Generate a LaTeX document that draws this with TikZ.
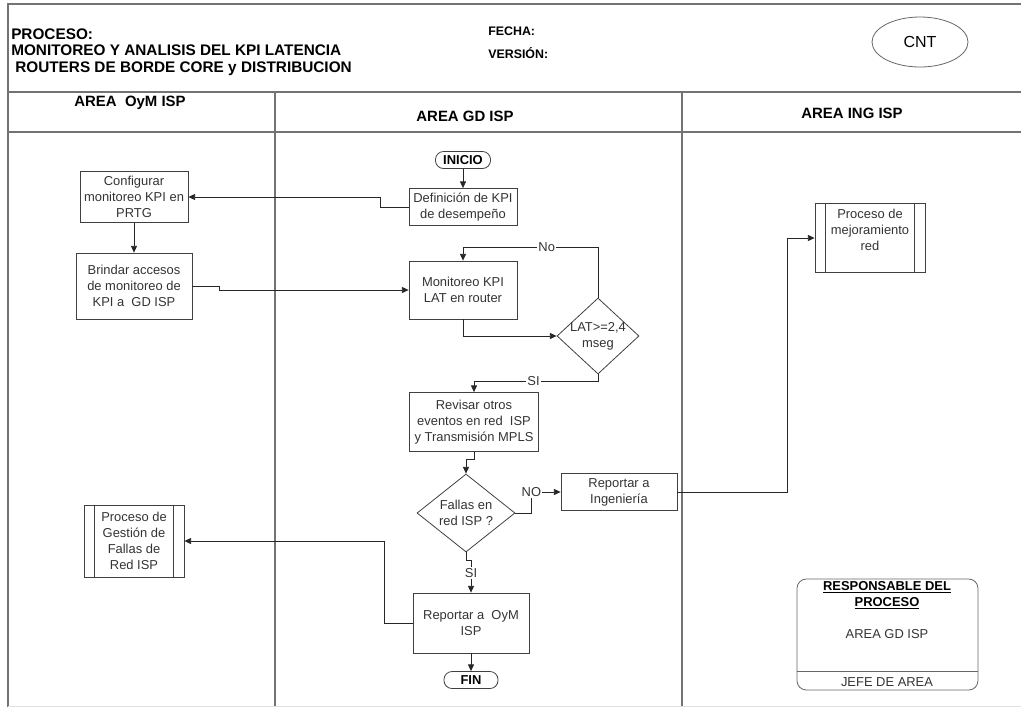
\documentclass[tikz,border=0pt]{standalone}
\usepackage{fontspec}
\setmainfont{Liberation Sans}
\usetikzlibrary{shapes.geometric,arrows.meta,calc}

\newcommand{\boxfont}{\fontsize{9.7}{12}\selectfont}

\tikzset{
    lane/.style={draw=black!55, line width=0.8pt},
    box/.style={draw=black!75, line width=0.6pt, align=center, text=black!80, font=\boxfont, inner sep=1pt},
    term/.style={box, rounded corners=6pt, font=\boxfont\bfseries, text=black},
    decision/.style={box, diamond, inner sep=0pt},
    subproc/.style={box},
    flow/.style={draw=black!85, line width=0.6pt, -{Triangle[length=5pt,width=4.5pt]}},
    lbl/.style={fill=white, inner sep=1pt, text=black!80, font=\boxfont},
    lanehead/.style={font=\fontsize{11.2}{13}\selectfont\bfseries},
}

\begin{document}
\begin{tikzpicture}[x=0.75pt, y=-0.75pt]
    \useasboundingbox (0,0) rectangle (1021,708);

    %frame and lanes
    \draw[lane] (8,707) -- (8,4) -- (1021,4);
    \draw[lane] (8,92) -- (1021,92);
    \draw[lane] (8,132) -- (1021,132);
    \draw[lane] (275,92) -- (275,706);
    \draw[lane] (682,92) -- (682,706);
    \draw[black!12] (8,706) -- (1021,706);

    %title block
    \node[anchor=west, align=left, inner sep=0pt, font=\fontsize{11.5}{12.2}\selectfont\bfseries] (proceso) at (11,52)
        {PROCESO:\\MONITOREO Y ANALISIS DEL KPI LATENCIA\\\hspace{3pt}ROUTERS DE BORDE CORE y DISTRIBUCION};
    \node[anchor=west, inner sep=0pt, font=\fontsize{9.3}{11}\selectfont\bfseries] (fecha) at (488,31) {FECHA:};
    \node[anchor=west, inner sep=0pt, font=\fontsize{9.3}{11}\selectfont\bfseries] (version) at (488,53) {VERSIÓN:};
    \node[draw=black!60, line width=0.6pt, ellipse, minimum width=72pt, minimum height=37.5pt, font=\fontsize{12}{14}\selectfont] (cnt) at (920,42) {CNT};

    %lane headers
    \node[lanehead] (oym) at (130,103) {AREA~~OyM ISP};
    \node[lanehead] (gd) at (465,116) {AREA GD ISP};
    \node[lanehead] (ing) at (852,113) {AREA ING ISP};

    %steps
    \node[term, minimum width=41.25pt, minimum height=12.75pt] (inicio) at (463,160) {INICIO};
    \node[box, minimum width=81pt, minimum height=27.75pt] (defkpi) at (463,207) {Definición de KPI\\de desempeño};
    \node[box, minimum width=81pt, minimum height=38.25pt] (config) at (134,197) {Configurar\\monitoreo KPI en\\PRTG};
    \node[box, minimum width=87pt, minimum height=49.5pt] (acceso) at (134,286) {Brindar accesos\\de monitoreo de\\KPI a~~GD ISP};
    \node[box, minimum width=81pt, minimum height=43.5pt] (monit) at (463,290) {Monitoreo KPI\\LAT en router};
    \node[decision, aspect=1.08, inner sep=-3pt, minimum width=61.5pt, minimum height=57pt] (lat) at (598,336) {LAT>=2,4\\mseg};
    \node[box, minimum width=96.75pt, minimum height=44.25pt] (revisar) at (474,422) {Revisar otros\\eventos en red~~ISP\\y Transmisión MPLS};
    \node[decision, aspect=1.26, minimum width=73.5pt, minimum height=58.5pt] (fallas) at (466,513) {Fallas en\\red ISP ?};
    \node[box, minimum width=87pt, minimum height=27.75pt] (reping) at (619,492) {Reportar a\\Ingeniería};
    \node[subproc, minimum width=82.5pt, minimum height=51.75pt] (mejora) at (870,238) {Proceso de\\mejoramiento\\red\\[-4pt]\strut};
    \node[box, minimum width=87pt, minimum height=45pt] (repoym) at (471,623) {Reportar a~~OyM\\ISP};
    \node[subproc, minimum width=75pt, minimum height=54pt] (gestion) at (134,541) {Proceso de\\Gestión de\\Fallas de\\Red ISP};
    \node[term, minimum width=40.5pt, minimum height=12.75pt] (fin) at (471,680) {FIN};

    %subprocess bars
    \foreach \n in {mejora, gestion} {
        \draw[black!75, line width=0.6pt] ($(\n.north west)+(11,0)$) -- ($(\n.south west)+(11,0)$);
        \draw[black!75, line width=0.6pt] ($(\n.north east)+(-11,0)$) -- ($(\n.south east)+(-11,0)$);
    }

    %connectors
    \draw[flow] (inicio) -- (defkpi);
    \draw[flow] (defkpi.west) -- ++(-28,0) |- (config.east);
    \draw[flow] (config) -- (acceso);
    \draw[flow] (acceso.east) -- ++(27,0) |- (monit.west);
    \draw[flow] (monit.south) |- (lat.west);
    \draw[flow] (lat.north) -- ++(0,-50) -| node[lbl, pos=0.19] {No} (monit.north);
    \draw[flow] (lat.south) -- ++(0,7) -| node[lbl, pos=0.26] {SI} (revisar.north);
    \draw[flow] (revisar.south) -- ++(0,7) -| (fallas.north);
    \draw[flow] (fallas.east) -- ++(16,0) |- node[lbl, pos=0.5] {NO} (reping.west);
    \draw[flow] (reping.east) -- ++(110,0) |- (mejora.west);
    \draw[flow] (fallas.south) -- ++(0,8) -| node[lbl, pos=0.7] {SI} (repoym.north);
    \draw[flow] (repoym.west) -- ++(-28,0) |- (gestion.east);
    \draw[flow] (repoym) -- (fin);

    %responsible
    \node[draw=black!60, line width=0.6pt, rounded corners=7pt, minimum width=135.75pt, minimum height=83.25pt] (resp) at (887.5,634.5) {};
    \node[align=center, inner sep=0pt, font=\boxfont\bfseries] (resptitle) at (887,595) {\underline{RESPONSABLE DEL}\\\underline{PROCESO}};
    \node[inner sep=0pt, text=black!80, font=\boxfont] (resparea) at (887,634) {AREA GD ISP};
    \coordinate (sep) at (0,671);
    \draw[black!60, line width=0.6pt] (resp.west |- sep) -- (resp.east |- sep);
    \node[inner sep=0pt, text=black!80, font=\boxfont] (jefe) at (887,682) {JEFE DE AREA};
\end{tikzpicture}
\end{document}
